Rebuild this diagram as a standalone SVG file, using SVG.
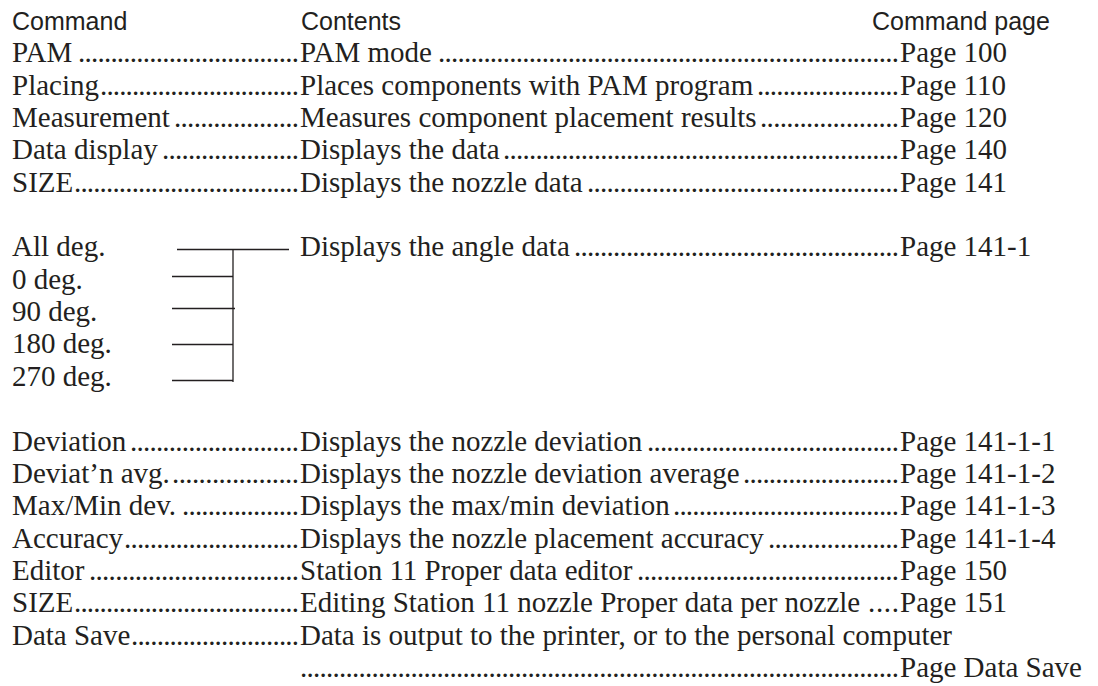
<svg xmlns="http://www.w3.org/2000/svg" width="1098" height="686" viewBox="0 0 1098 686">
<style>
.t{font-family:"Liberation Serif","Times New Roman",serif;font-size:29px;fill:#231f20}
.h{font-family:"Liberation Sans",Arial,sans-serif;font-size:25px;fill:#231f20}
.c{stroke:#231f20;stroke-width:1.3;fill:none}
</style>
<rect width="1098" height="686" fill="#ffffff"/>
<g id="header">
<text class="h" x="12" y="30">Command</text>
<text class="h" x="301" y="30">Contents</text>
<text class="h" x="872" y="30">Command page</text>
</g>
<g id="row-pam">
<text class="t" x="12" y="62">PAM</text>
<text class="t" x="78" y="62" textLength="221" lengthAdjust="spacing">..................................</text>
<text class="t" x="300" y="62">PAM mode</text>
<text class="t" x="438" y="62" textLength="461" lengthAdjust="spacing">.......................................................................</text>
<text class="t" x="900" y="62">Page 100</text>
</g>
<g id="row-placing">
<text class="t" x="12" y="95">Placing</text>
<text class="t" x="100" y="95" textLength="199" lengthAdjust="spacing">...............................</text>
<text class="t" x="300" y="95">Places components with PAM program</text>
<text class="t" x="757" y="95" textLength="142" lengthAdjust="spacing">......................</text>
<text class="t" x="900" y="95">Page 110</text>
</g>
<g id="row-measurement">
<text class="t" x="12" y="127">Measurement</text>
<text class="t" x="174" y="127" textLength="125" lengthAdjust="spacing">...................</text>
<text class="t" x="300" y="127">Measures component placement results</text>
<text class="t" x="760" y="127" textLength="139" lengthAdjust="spacing">.....................</text>
<text class="t" x="900" y="127">Page 120</text>
</g>
<g id="row-data-display">
<text class="t" x="12" y="159">Data display</text>
<text class="t" x="162" y="159" textLength="137" lengthAdjust="spacing">.....................</text>
<text class="t" x="300" y="159">Displays the data</text>
<text class="t" x="503" y="159" textLength="396" lengthAdjust="spacing">.............................................................</text>
<text class="t" x="900" y="159">Page 140</text>
</g>
<g id="row-size">
<text class="t" x="12" y="192">SIZE</text>
<text class="t" x="74" y="192" textLength="225" lengthAdjust="spacing">...................................</text>
<text class="t" x="300" y="192">Displays the nozzle data</text>
<text class="t" x="587" y="192" textLength="312" lengthAdjust="spacing">................................................</text>
<text class="t" x="900" y="192">Page 141</text>
</g>
<g id="angles">
<text class="t" x="12" y="256">All deg.</text>
<text class="t" x="12" y="289">0 deg.</text>
<text class="t" x="12" y="321">90 deg.</text>
<text class="t" x="12" y="353">180 deg.</text>
<text class="t" x="12" y="386">270 deg.</text>
</g>
<g id="row-angle-data">
<text class="t" x="300" y="256">Displays the angle data</text>
<text class="t" x="574" y="256" textLength="325" lengthAdjust="spacing">..................................................</text>
<text class="t" x="900" y="256">Page 141-1</text>
</g>
<g id="connectors">
<line class="c" x1="177" y1="249.5" x2="289" y2="249.5"/>
<line class="c" x1="172" y1="276.5" x2="233" y2="276.5"/>
<line class="c" x1="172" y1="308.5" x2="235" y2="308.5"/>
<line class="c" x1="172" y1="344.5" x2="233" y2="344.5"/>
<line class="c" x1="172" y1="380.5" x2="233" y2="380.5"/>
<line class="c" x1="233" y1="249" x2="233" y2="382"/>
</g>
<g id="row-deviation">
<text class="t" x="12" y="451">Deviation</text>
<text class="t" x="130" y="451" textLength="169" lengthAdjust="spacing">..........................</text>
<text class="t" x="300" y="451">Displays the nozzle deviation</text>
<text class="t" x="647" y="451" textLength="252" lengthAdjust="spacing">.......................................</text>
<text class="t" x="900" y="451">Page 141-1-1</text>
</g>
<g id="row-deviatn-avg">
<text class="t" x="12" y="483">Deviat’n avg.</text>
<text class="t" x="172" y="483" textLength="127" lengthAdjust="spacing">...................</text>
<text class="t" x="300" y="483">Displays the nozzle deviation average</text>
<text class="t" x="743" y="483" textLength="156" lengthAdjust="spacing">........................</text>
<text class="t" x="900" y="483">Page 141-1-2</text>
</g>
<g id="row-maxmin">
<text class="t" x="12" y="515">Max/Min dev.</text>
<text class="t" x="182" y="515" textLength="117" lengthAdjust="spacing">..................</text>
<text class="t" x="300" y="515">Displays the max/min deviation</text>
<text class="t" x="673" y="515" textLength="226" lengthAdjust="spacing">...................................</text>
<text class="t" x="900" y="515">Page 141-1-3</text>
</g>
<g id="row-accuracy">
<text class="t" x="12" y="548">Accuracy</text>
<text class="t" x="124" y="548" textLength="175" lengthAdjust="spacing">...........................</text>
<text class="t" x="300" y="548">Displays the nozzle placement accuracy</text>
<text class="t" x="768" y="548" textLength="131" lengthAdjust="spacing">....................</text>
<text class="t" x="900" y="548">Page 141-1-4</text>
</g>
<g id="row-editor">
<text class="t" x="12" y="580">Editor</text>
<text class="t" x="89" y="580" textLength="210" lengthAdjust="spacing">................................</text>
<text class="t" x="300" y="580">Station 11 Proper data editor</text>
<text class="t" x="637" y="580" textLength="262" lengthAdjust="spacing">........................................</text>
<text class="t" x="900" y="580">Page 150</text>
</g>
<g id="row-size-edit">
<text class="t" x="12" y="612">SIZE</text>
<text class="t" x="74" y="612" textLength="225" lengthAdjust="spacing">...................................</text>
<text class="t" x="300" y="612">Editing Station 11 nozzle Proper data per nozzle</text>
<text class="t" x="868" y="612" textLength="31" lengthAdjust="spacing">....</text>
<text class="t" x="900" y="612">Page 151</text>
</g>
<g id="row-data-save">
<text class="t" x="12" y="645">Data Save</text>
<text class="t" x="131" y="645" textLength="168" lengthAdjust="spacing">..........................</text>
<text class="t" x="300" y="645">Data is output to the printer, or to the personal computer</text>
<text class="t" x="300" y="677" textLength="599" lengthAdjust="spacing">............................................................................................</text>
<text class="t" x="900" y="677">Page Data Save</text>
</g>
</svg>
